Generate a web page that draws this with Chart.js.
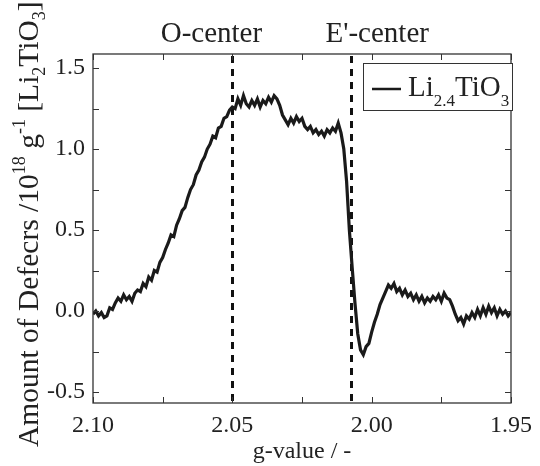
<!DOCTYPE html>
<html><head><meta charset="utf-8">
<script src="https://cdn.jsdelivr.net/npm/chart.js@4"></script>
<style>html,body{margin:0;padding:0;background:#fff}canvas{display:block}</style>
</head><body>
<canvas id="c" width="540" height="466"></canvas>
<script>
// g-values (x) and amount of defects (y)
const gValues = [
2.100,2.099,2.098,2.097,2.096,2.095,2.094,2.093,2.092,2.091,
2.090,2.089,2.088,2.087,2.086,2.085,2.084,2.083,2.082,2.081,
2.080,2.079,2.078,2.077,2.076,2.075,2.074,2.073,2.072,2.071,
2.070,2.069,2.068,2.067,2.066,2.065,2.064,2.063,2.062,2.061,
2.060,2.059,2.058,2.057,2.056,2.055,2.054,2.053,2.052,2.051,
2.050,2.049,2.048,2.047,2.046,2.045,2.044,2.043,2.042,2.041,
2.040,2.039,2.038,2.037,2.036,2.035,2.034,2.033,2.032,2.031,
2.030,2.029,2.028,2.027,2.026,2.025,2.024,2.023,2.022,2.021,
2.020,2.019,2.018,2.017,2.016,2.015,2.014,2.013,2.012,2.011,
2.010,2.009,2.008,2.007,2.006,2.005,2.004,2.003,2.002,2.001,
2.000,1.999,1.998,1.997,1.996,1.995,1.994,1.993,1.992,1.991,
1.990,1.989,1.988,1.987,1.986,1.985,1.984,1.983,1.982,1.981,
1.980,1.979,1.978,1.977,1.976,1.975,1.974,1.973,1.972,1.971,
1.970,1.969,1.968,1.967,1.966,1.965,1.964,1.963,1.962,1.961,
1.960,1.959,1.958,1.957,1.956,1.955,1.954,1.953,1.952,1.951,
1.950];
const defects = [
-0.02,0.00,-0.03,-0.01,-0.04,-0.03,0.02,0.01,0.05,0.08,
0.06,0.10,0.07,0.09,0.06,0.11,0.13,0.12,0.17,0.15,
0.21,0.19,0.25,0.24,0.30,0.33,0.38,0.42,0.47,0.46,
0.53,0.57,0.62,0.64,0.70,0.75,0.78,0.84,0.87,0.92,
0.95,1.00,1.03,1.08,1.07,1.13,1.14,1.19,1.20,1.24,
1.26,1.25,1.31,1.27,1.33,1.28,1.26,1.30,1.27,1.31,
1.26,1.30,1.28,1.32,1.29,1.33,1.31,1.27,1.21,1.18,
1.15,1.19,1.16,1.20,1.17,1.19,1.14,1.12,1.14,1.10,
1.12,1.09,1.11,1.08,1.12,1.10,1.13,1.11,1.16,1.10,
1.00,0.80,0.50,0.27,0.05,-0.14,-0.24,-0.27,-0.22,-0.20,
-0.13,-0.07,-0.02,0.04,0.08,0.12,0.16,0.14,0.17,0.12,
0.14,0.10,0.13,0.09,0.11,0.07,0.10,0.06,0.09,0.05,
0.08,0.06,0.09,0.07,0.10,0.06,0.11,0.08,0.07,0.03,
-0.02,-0.06,-0.04,-0.08,-0.03,-0.05,-0.01,-0.04,0.01,-0.03,
0.02,-0.02,0.03,-0.01,0.02,-0.03,0.01,-0.02,0.00,-0.03,
-0.01];
const seriesName = 'Li2.4TiO3';
const xMajorTicks = [2.10, 2.05, 2.00, 1.95];
const xMinorTicks = [2.075, 2.025, 1.975];
const yMajorTicks = [-0.5, 0.0, 0.5, 1.0, 1.5];
const yMinorTicks = [-0.25, 0.25, 0.75, 1.25];
const markerG = [2.050, 2.0074];
const markerLabels = ['O-center', "E'-center"];
const markerLabelG = [2.0575, 1.998];

const SERIF = '"Liberation Serif", "DejaVu Serif", serif';
const INK = '#222';

const framePlugin = {
  id: 'frame',
  beforeDatasetsDraw(chart) {
    const {ctx, chartArea: a, scales: {x, y}} = chart;
    ctx.save();
    ctx.strokeStyle = '#111';
    ctx.lineWidth = 3;
    ctx.setLineDash([7, 6]);
    markerG.forEach(g => {
      const px = Math.round(x.getPixelForValue(g)) + 0.5;
      ctx.beginPath();
      ctx.moveTo(px, a.top + 2);
      ctx.lineTo(px, a.bottom);
      ctx.stroke();
    });
    ctx.setLineDash([]);
    ctx.fillStyle = INK;
    ctx.font = '29px ' + SERIF;
    ctx.textAlign = 'center';
    ctx.textBaseline = 'alphabetic';
    markerLabels.forEach((t, i) => {
      ctx.fillText(t, x.getPixelForValue(markerLabelG[i]), 42);
    });
    ctx.restore();
  },
  afterDatasetsDraw(chart) {
    const {ctx, chartArea: a, scales: {x, y}} = chart;
    ctx.save();
    ctx.strokeStyle = '#333';
    ctx.lineWidth = 1.3;
    ctx.strokeRect(a.left, a.top, a.right - a.left, a.bottom - a.top);
    const L = 6;
    ctx.lineWidth = 1;
    ctx.beginPath();
    xMajorTicks.concat(xMinorTicks).forEach(v => {
      const px = Math.round(x.getPixelForValue(v)) + 0.5;
      ctx.moveTo(px, a.bottom); ctx.lineTo(px, a.bottom - L);
      ctx.moveTo(px, a.top); ctx.lineTo(px, a.top + L);
    });
    yMajorTicks.concat(yMinorTicks).forEach(v => {
      const py = Math.round(y.getPixelForValue(v)) + 0.5;
      ctx.moveTo(a.left, py); ctx.lineTo(a.left + L, py);
      ctx.moveTo(a.right, py); ctx.lineTo(a.right - L, py);
    });
    ctx.stroke();

    // legend
    const bx = 363.5, by = 63.5, bw = 149, bh = 47;
    ctx.fillStyle = '#fff';
    ctx.fillRect(bx, by, bw, bh);
    ctx.strokeStyle = '#333';
    ctx.lineWidth = 1;
    ctx.strokeRect(bx, by, bw, bh);
    ctx.strokeStyle = '#1a1a1a';
    ctx.lineWidth = 2.5;
    ctx.beginPath();
    ctx.moveTo(372, 89); ctx.lineTo(401, 89);
    ctx.stroke();
    ctx.fillStyle = INK;
    ctx.textAlign = 'left';
    ctx.textBaseline = 'alphabetic';
    const parts = [['Li', 29, 0], ['2.4', 17, 10], ['TiO', 29, 0], ['3', 17, 10]];
    let cx = 408;
    parts.forEach(([t, s, dy]) => {
      ctx.font = s + 'px ' + SERIF;
      ctx.fillText(t, cx, 96 + dy);
      cx += ctx.measureText(t).width;
    });

    // y-axis title with super/subscripts
    ctx.translate(38, 447);
    ctx.rotate(-Math.PI / 2);
    const yparts = [['Amount of Defecrs /10', 29.5, 0], ['18', 18, -13], [' g', 29.5, 0], ['-1', 18, -13],
                    [' [Li', 29.5, 0], ['2', 18, 7], ['TiO', 29.5, 0], ['3', 18, 7], [']', 29.5, 0]];
    let tx = 0;
    yparts.forEach(([t, s, dy]) => {
      ctx.font = s + 'px ' + SERIF;
      ctx.fillText(t, tx, dy);
      tx += ctx.measureText(t).width;
    });
    ctx.restore();
  }
};

new Chart(document.getElementById('c'), {
  type: 'line',
  data: {
    datasets: [{
      label: seriesName,
      data: gValues.map((g, i) => ({x: g, y: defects[i]})),
      borderColor: '#1a1a1a',
      borderWidth: 3.2,
      pointRadius: 0,
      tension: 0,
      fill: false
    }]
  },
  options: {
    responsive: false,
    animation: false,
    devicePixelRatio: 1,
    layout: {padding: {left: 0, top: 54, right: 27, bottom: 0}},
    plugins: {legend: {display: false}, tooltip: {enabled: false}},
    scales: {
      x: {
        type: 'linear', reverse: true, min: 1.95, max: 2.10,
        afterBuildTicks: s => { s.ticks = xMajorTicks.map(v => ({value: v})); },
        afterFit: s => { s.height = 63; },
        grid: {display: false, drawTicks: false},
        border: {display: false},
        ticks: {color: INK, padding: 8, font: {family: SERIF, size: 24}, maxRotation: 0,
                callback: v => Number(v).toFixed(2)},
        title: {display: true, text: 'g-value / -', color: INK, font: {family: SERIF, size: 24}, padding: {top: 0, bottom: 0}}
      },
      y: {
        type: 'linear', min: -0.568, max: 1.587,
        afterBuildTicks: s => { s.ticks = yMajorTicks.map(v => ({value: v})); },
        afterFit: s => { s.width = 93; },
        grid: {display: false, drawTicks: false},
        border: {display: false},
        ticks: {color: INK, padding: 8, font: {family: SERIF, size: 24},
                callback: v => Number(v).toFixed(1)},
        title: {display: false}
      }
    }
  },
  plugins: [framePlugin]
});
</script>
</body></html>
